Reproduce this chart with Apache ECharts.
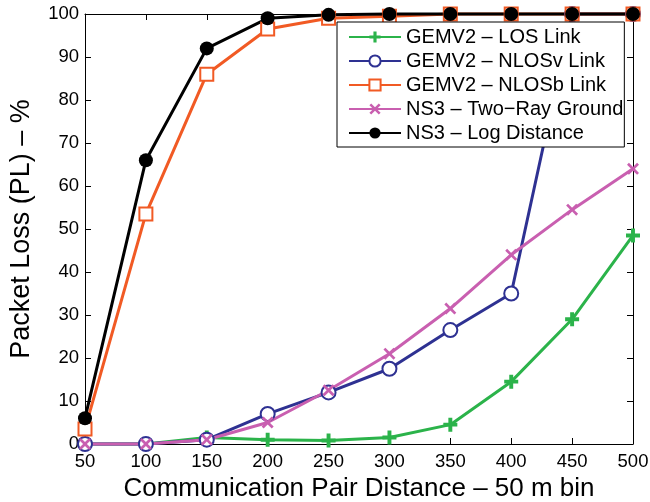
<!DOCTYPE html>
<html><head><meta charset="utf-8">
<script src="https://cdn.jsdelivr.net/npm/echarts@6/dist/echarts.min.js"></script>
<style>html,body{margin:0;padding:0;background:#fff}#c{width:650px;height:502px}</style>
</head><body><div id="c"></div>
<script>
const distances = [50,100,150,200,250,300,350,400,450,500];
const losLink =   [0,0,1.5,1,0.8,1.5,4.5,14.5,29,48.5];
const nlosvLink = [0,0,1,7,12,17.5,26.5,35,100,100];
const nlosbLink = [3.5,53.5,86,96.5,99,99.5,100,100,100,100];
const twoRay =    [0,0,1,5,12.5,21,31.5,44,54.5,64];
const logDist =   [6,66,92,99,99.8,100,100,100,100,100];
const seriesNames = ['GEMV2 – LOS Link','GEMV2 – NLOSv Link','GEMV2 – NLOSb Link','NS3 – Two−Ray Ground','NS3 – Log Distance'];
const xTicks = {min:50,max:500,interval:50};
const yTicks = {min:0,max:100,interval:10};

const plus = 'path://M3.6,0H6.4V3.6H10V6.4H6.4V10H3.6V6.4H0V3.6H3.6Z';
const cross = 'path://M1.6,0L5,3.4L8.4,0L10,1.6L6.6,5L10,8.4L8.4,10L5,6.6L1.6,10L0,8.4L3.4,5L0,1.6Z';
const font = 'Liberation Sans, Arial, Helvetica, sans-serif';

function pairs(vals){ return distances.map((d,i)=>[d,vals[i]]); }

const defs = [
  {name:seriesNames[0], data:losLink, color:'#2bb34a', symbol:plus, size:14, empty:false},
  {name:seriesNames[1], data:nlosvLink, color:'#2e3192', symbol:'emptyCircle', size:14, empty:true},
  {name:seriesNames[2], data:nlosbLink, color:'#f15a24', symbol:'emptyRect', size:13, empty:true},
  {name:seriesNames[3], data:twoRay, color:'#c95fb0', symbol:cross, size:12, empty:false},
  {name:seriesNames[4], data:logDist, color:'#000000', symbol:'circle', size:14, empty:false}
];

const axisCommon = {
  axisLine:{show:true,onZero:false,lineStyle:{color:'#000',width:1}},
  axisTick:{show:true,inside:true,length:6,lineStyle:{color:'#000'}},
  splitLine:{show:false}
};

const chart = echarts.init(document.getElementById('c'));
chart.setOption({
  animation:false,
  backgroundColor:'#fff',
  grid:{left:85,right:17,top:14,bottom:58,containLabel:false,outerBoundsMode:'none'},
  legend:{
    orient:'vertical', left:337, top:22,
    padding:[5,1,4,11], itemGap:4, itemWidth:52, itemHeight:14,
    backgroundColor:'#fff', borderColor:'#000', borderWidth:1,
    textStyle:{fontFamily:font,fontSize:20,color:'#000'},
    data:seriesNames
  },
  xAxis:[
    Object.assign({type:'value',min:xTicks.min,max:xTicks.max,interval:xTicks.interval,
      name:'Communication Pair Distance – 50 m bin',nameLocation:'middle',nameGap:27,
      nameTextStyle:{fontFamily:font,fontSize:26,color:'#000'},
      axisLabel:{fontFamily:font,fontSize:18.5,color:'#000',margin:8}},axisCommon),
    Object.assign({type:'value',position:'top',min:xTicks.min,max:xTicks.max,interval:xTicks.interval,
      axisLabel:{show:false}},axisCommon)
  ],
  yAxis:[
    Object.assign({type:'value',min:yTicks.min,max:yTicks.max,interval:yTicks.interval,
      name:'Packet Loss (PL) – %',nameLocation:'middle',nameGap:50,
      nameTextStyle:{fontFamily:font,fontSize:27,color:'#000'},
      axisLabel:{fontFamily:font,fontSize:18.5,color:'#000',margin:6}},axisCommon),
    Object.assign({type:'value',position:'right',min:yTicks.min,max:yTicks.max,interval:yTicks.interval,
      axisLabel:{show:false}},axisCommon)
  ],
  series: defs.map(d=>({
    name:d.name, type:'line', data:pairs(d.data),
    symbol:d.symbol, symbolSize:d.size, showAllSymbol:true,
    lineStyle:{color:d.color,width:3},
    itemStyle: d.empty ? {color:d.color, borderColor:d.color, borderWidth:3}
                       : {color:d.color, borderWidth:0},
    clip:false
  }))
});
</script></body></html>
